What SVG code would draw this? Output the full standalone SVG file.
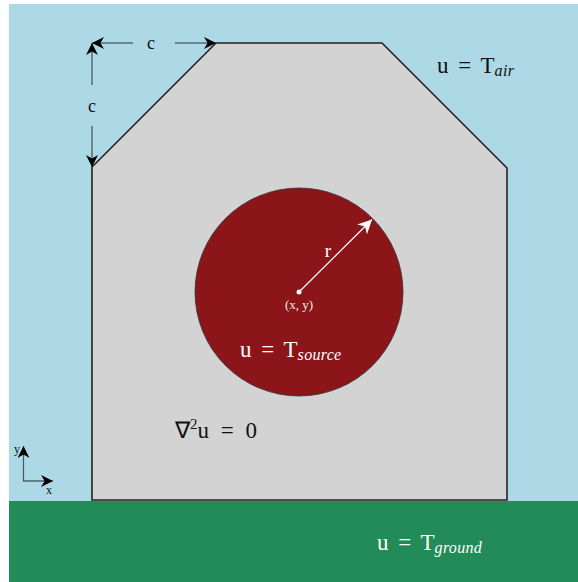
<svg xmlns="http://www.w3.org/2000/svg" width="578" height="582" viewBox="0 0 578 582">
<defs>
<style>
.t{font-family:"Liberation Serif","Times New Roman",serif;}
.eq{font-size:23px;word-spacing:4px;}
.sub{font-style:italic;font-size:16px;letter-spacing:0.3px;}
.dim{stroke:#333;stroke-width:1;fill:none;}
</style>
<marker id="ah" viewBox="0 0 10 10" refX="10" refY="5" markerWidth="12" markerHeight="12" markerUnits="userSpaceOnUse" orient="auto">
<path d="M0,0 L10,5 L0,10 L3,5 Z" fill="#000"/>
</marker>
<marker id="ahw" viewBox="0 0 10 10" refX="10" refY="5" markerWidth="14" markerHeight="14" markerUnits="userSpaceOnUse" orient="auto">
<path d="M0,0 L10,5 L0,10 L3,5 Z" fill="#fff"/>
</marker>
</defs>
<rect x="0" y="0" width="578" height="582" fill="#fff"/>
<g id="air"><rect x="9" y="4" width="569" height="497" fill="#add8e6"/></g>
<g id="ground"><rect x="9" y="501" width="569" height="81" fill="#238b57"/></g>
<g id="body"><polygon points="92,500 92,167 216,43 382,43 507,168 507,500" fill="#d3d3d3" stroke="#222" stroke-width="1.6"/></g>
<g id="source">
<circle cx="299" cy="292" r="104" fill="#8b1519" stroke="#333" stroke-width="0.8"/>
<circle cx="299" cy="292" r="2.5" fill="#fff"/>
</g>
<g id="connectors">
<line x1="299" y1="292" x2="372" y2="219.5" stroke="#fff" stroke-width="1.2" marker-end="url(#ahw)"/>
<line class="dim" x1="133" y1="43" x2="92" y2="43" marker-end="url(#ah)"/>
<line class="dim" x1="175" y1="43" x2="216" y2="43" marker-end="url(#ah)"/>
<line class="dim" x1="92" y1="85" x2="92" y2="43" marker-end="url(#ah)"/>
<line class="dim" x1="92" y1="126" x2="92" y2="167" marker-end="url(#ah)"/>
<line x1="23.5" y1="481" x2="23.5" y2="446" stroke="#456" stroke-width="1.2" marker-end="url(#ah)"/>
<line x1="23" y1="481" x2="53" y2="481" stroke="#345" stroke-width="1.2" marker-end="url(#ah)"/>
</g>
<g id="labels" class="t">
<text class="t" x="151" y="49" font-size="18" text-anchor="middle" fill="#111">c</text>
<text class="t" x="92" y="112" font-size="18" text-anchor="middle" fill="#111">c</text>
<text class="t eq" x="437" y="73" fill="#111">u = T<tspan class="sub" dy="3">air</tspan></text>
<text class="t" x="328" y="257" font-size="19" text-anchor="middle" fill="#fff">r</text>
<text class="t" x="299" y="309" font-size="13" text-anchor="middle" fill="#eee">(x, y)</text>
<text class="t eq" x="240" y="357" fill="#fff">u = T<tspan class="sub" dy="3">source</tspan></text>
<text class="t eq" x="175" y="438" fill="#111" style="word-spacing:6px">∇<tspan font-size="15" dy="-9">2</tspan><tspan dy="9">u = 0</tspan></text>
<text class="t" x="17" y="453" font-size="12" text-anchor="middle" fill="#111">y</text>
<text class="t" x="49" y="494" font-size="12" text-anchor="middle" fill="#111">x</text>
<text class="t eq" x="377" y="550" fill="#fff">u = T<tspan class="sub" dy="3">ground</tspan></text>
</g>
</svg>
